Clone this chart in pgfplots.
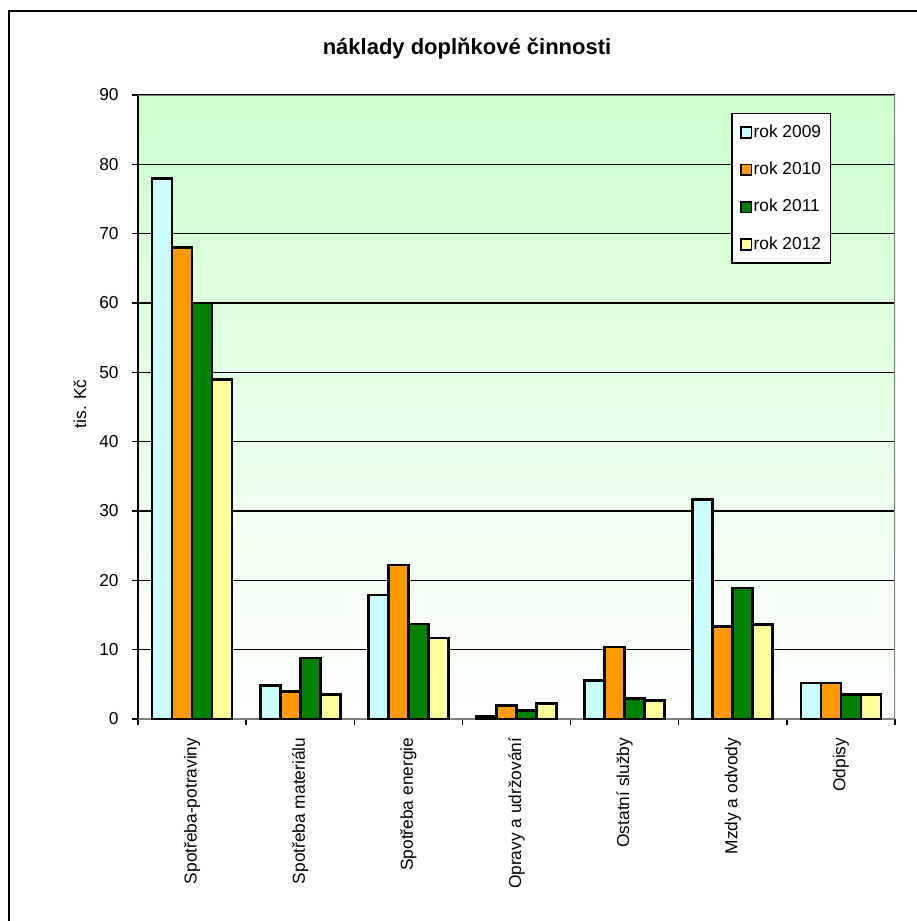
\documentclass[border=0pt]{standalone}
\usepackage{pgfplots}
\pgfplotsset{compat=1.18}
\usepackage{fontspec}
\setmainfont{Liberation Sans}

\definecolor{c2009}{HTML}{CCFFFF}
\definecolor{c2010}{HTML}{FF9900}
\definecolor{c2011}{HTML}{008000}
\definecolor{c2012}{HTML}{FFFF99}
\definecolor{bgtop}{HTML}{CCFFCC}

\begin{document}
\begin{tikzpicture}
% page extent and chart frame (1px = 0.75pt)
\useasboundingbox (0pt,0pt) rectangle (687.75pt,690.75pt);
\draw[line width=1.2pt] (6.75pt,-5pt) -- (6.75pt,682.5pt) -- (700pt,682.5pt);
% title
\node[font=\fontsize{16.5}{20}\selectfont\bfseries] at (350.25pt,654.4pt) {náklady doplňkové činnosti};

\begin{axis}[
  at={(103.5pt,151.5pt)}, anchor=south west,
  width=567.75pt, height=468pt, scale only axis,
  ybar=0pt, bar width=0.185,
  xmin=-0.5, xmax=6.5, ymin=0, ymax=90,
  ytick={0,10,...,90},
  xtick={0,...,6},
  xticklabels={Spotřeba-potraviny,Spotřeba materiálu,Spotřeba energie,Opravy a udržování,Ostatní služby,Mzdy a odvody,Odpisy},
  minor xtick={-0.5,0.5,...,6.5},
  major x tick style={draw=none},
  minor x tick style={black, line width=1pt},
  y tick style={black, line width=1pt},
  tick align=outside,
  major tick length=4.5pt, minor tick length=4.5pt,
  axis x line*=bottom, axis y line*=left,
  x axis line style={draw=gray, line width=1.3pt},
  y axis line style={draw=black, line width=1.5pt},
  ymajorgrids,
  grid style={black, line width=1.1pt},
  axis background/.style={top color=bgtop, bottom color=white},
  /pgf/number format/assume math mode=true,
  tick label style={font=\fontsize{13}{15}\selectfont},
  yticklabel style={xshift=-6.5pt},
  xticklabel style={rotate=90, anchor=east, xshift=-6pt},
  ylabel={tis. Kč},
  ylabel style={font=\fontsize{13}{15}\selectfont, at={(axis description cs:-0.0766,0.505)}, anchor=center},
  legend style={at={(0.784,0.971)}, anchor=north west, draw=black, line width=1pt,
    fill=white, font=\fontsize{13}{15}\selectfont, inner xsep=6pt, inner ysep=7pt,
    row sep=14pt, nodes={inner sep=1pt, text height=9.5pt, text depth=2.5pt}},
  legend cell align=left,
  legend image code/.code={\draw[#1, line width=1.1pt] (0pt,-4pt) rectangle (8pt,4pt);},
  every axis plot/.append style={draw=black, line width=2pt},
]
\addplot[fill=c2009] coordinates {(0,78) (1,4.8) (2,17.9) (3,0.4) (4,5.6) (5,31.7) (6,5.2)};
\addplot[fill=c2010] coordinates {(0,68) (1,4.0) (2,22.2) (3,1.9) (4,10.4) (5,13.3) (6,5.2)};
\addplot[fill=c2011] coordinates {(0,60) (1,8.8) (2,13.7) (3,1.2) (4,3.0) (5,18.9) (6,3.5)};
\addplot[fill=c2012] coordinates {(0,49) (1,3.5) (2,11.7) (3,2.2) (4,2.7) (5,13.6) (6,3.5)};
\legend{rok 2009,rok 2010,rok 2011,rok 2012}
\draw[gray, line width=1.3pt] (rel axis cs:0,1) -- (rel axis cs:1,1) -- (rel axis cs:1,0);
\end{axis}
\end{tikzpicture}
\end{document}
